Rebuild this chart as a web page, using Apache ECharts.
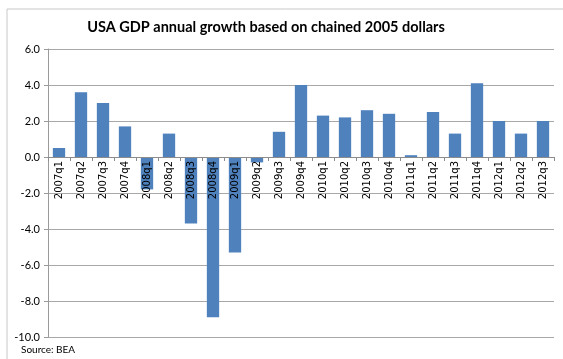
<!DOCTYPE html>
<html>
<head>
<meta charset="utf-8">
<script src="https://cdn.jsdelivr.net/npm/echarts@6/dist/echarts.min.js"></script>
<style>
	html, body { margin: 0; padding: 0; background: #fff; }
	#chart { width: 563px; height: 359px; }
</style>
</head>
<body>
<div id="chart"></div>
<script>
	// quarters and annualised growth (%)
	const quarters = [
		'2007q1', '2007q2', '2007q3', '2007q4',
		'2008q1', '2008q2', '2008q3', '2008q4',
		'2009q1', '2009q2', '2009q3', '2009q4',
		'2010q1', '2010q2', '2010q3', '2010q4',
		'2011q1', '2011q2', '2011q3', '2011q4',
		'2012q1', '2012q2', '2012q3'
	];
	const growth = [
		0.5, 3.6, 3.0, 1.7,
		-1.8, 1.3, -3.7, -8.9,
		-5.3, -0.3, 1.4, 4.0,
		2.3, 2.2, 2.6, 2.4,
		0.1, 2.5, 1.3, 4.1,
		2.0, 1.3, 2.0
	];
	const yMin = -10;
	const yMax = 6;
	const yStep = 2;

	const titleText = 'USA GDP annual growth based on chained 2005 dollars';
	const sourceText = 'Source: BEA';

	// plot box, in px
	const gridTop = 49;
	const gridBottom = 22;
	const plotH = 359 - gridTop - gridBottom;
	// the category axis sits on the zero line; lift it up from the bottom edge
	const zeroLift = plotH * (0 - yMin) / (yMax - yMin);

	let chart = echarts.init(document.getElementById('chart'));
	let option = {
		animation: false,
		title: {
			text: titleText,
			left: 261,
			top: 15,
			textAlign: 'center',
			textStyle: {
				fontFamily: 'Lato',
				fontSize: 14.5,
				fontWeight: 'bold',
				color: '#000'
			}
		},
		graphic: [
			{
				type: 'rect',
				shape: { x: 7, y: 9, width: 700, height: 500 },
				style: { fill: 'none', stroke: '#c8c8c8', lineWidth: 1 },
				silent: true
			},
			{
				type: 'text',
				left: 21,
				top: 345,
				style: {
					text: sourceText,
					fontFamily: 'Lato',
					fontSize: 10,
					fill: '#000'
				}
			}
		],
		grid: {
			left: 48,
			right: 9,
			top: gridTop,
			bottom: gridBottom,
			containLabel: false,
			outerBoundsMode: 'none'
		},
		xAxis: {
			type: 'category',
			data: quarters,
			position: 'bottom',
			offset: -zeroLift,
			z: 10,
			axisLine: {
				show: true,
				onZero: false,
				lineStyle: { color: '#8c8c8c', width: 1 }
			},
			axisTick: {
				show: true,
				alignWithLabel: false,
				length: 4,
				lineStyle: { color: '#8c8c8c' }
			},
			axisLabel: {
				rotate: 90,
				interval: 0,
				margin: 4,
				hideOverlap: false,
				fontFamily: 'DejaVu Sans',
				fontSize: 10,
				color: '#000'
			}
		},
		yAxis: {
			type: 'value',
			min: yMin,
			max: yMax,
			interval: yStep,
			axisLine: {
				show: true,
				onZero: false,
				lineStyle: { color: '#9a9a9a', width: 1 }
			},
			axisTick: {
				show: true,
				length: 4,
				lineStyle: { color: '#9a9a9a' }
			},
			axisLabel: {
				margin: 8,
				fontFamily: 'Lato',
				fontSize: 11,
				color: '#000',
				formatter: (v) => v.toFixed(1)
			},
			splitLine: {
				show: true,
				lineStyle: { color: '#a8a8a8', width: 1 }
			}
		},
		series: [
			{
				type: 'bar',
				data: growth,
				barWidth: '56%',
				z: 2,
				itemStyle: {
					color: '#4f81bd'
				}
			}
		]
	};
	chart.setOption(option);
</script>
</body>
</html>
